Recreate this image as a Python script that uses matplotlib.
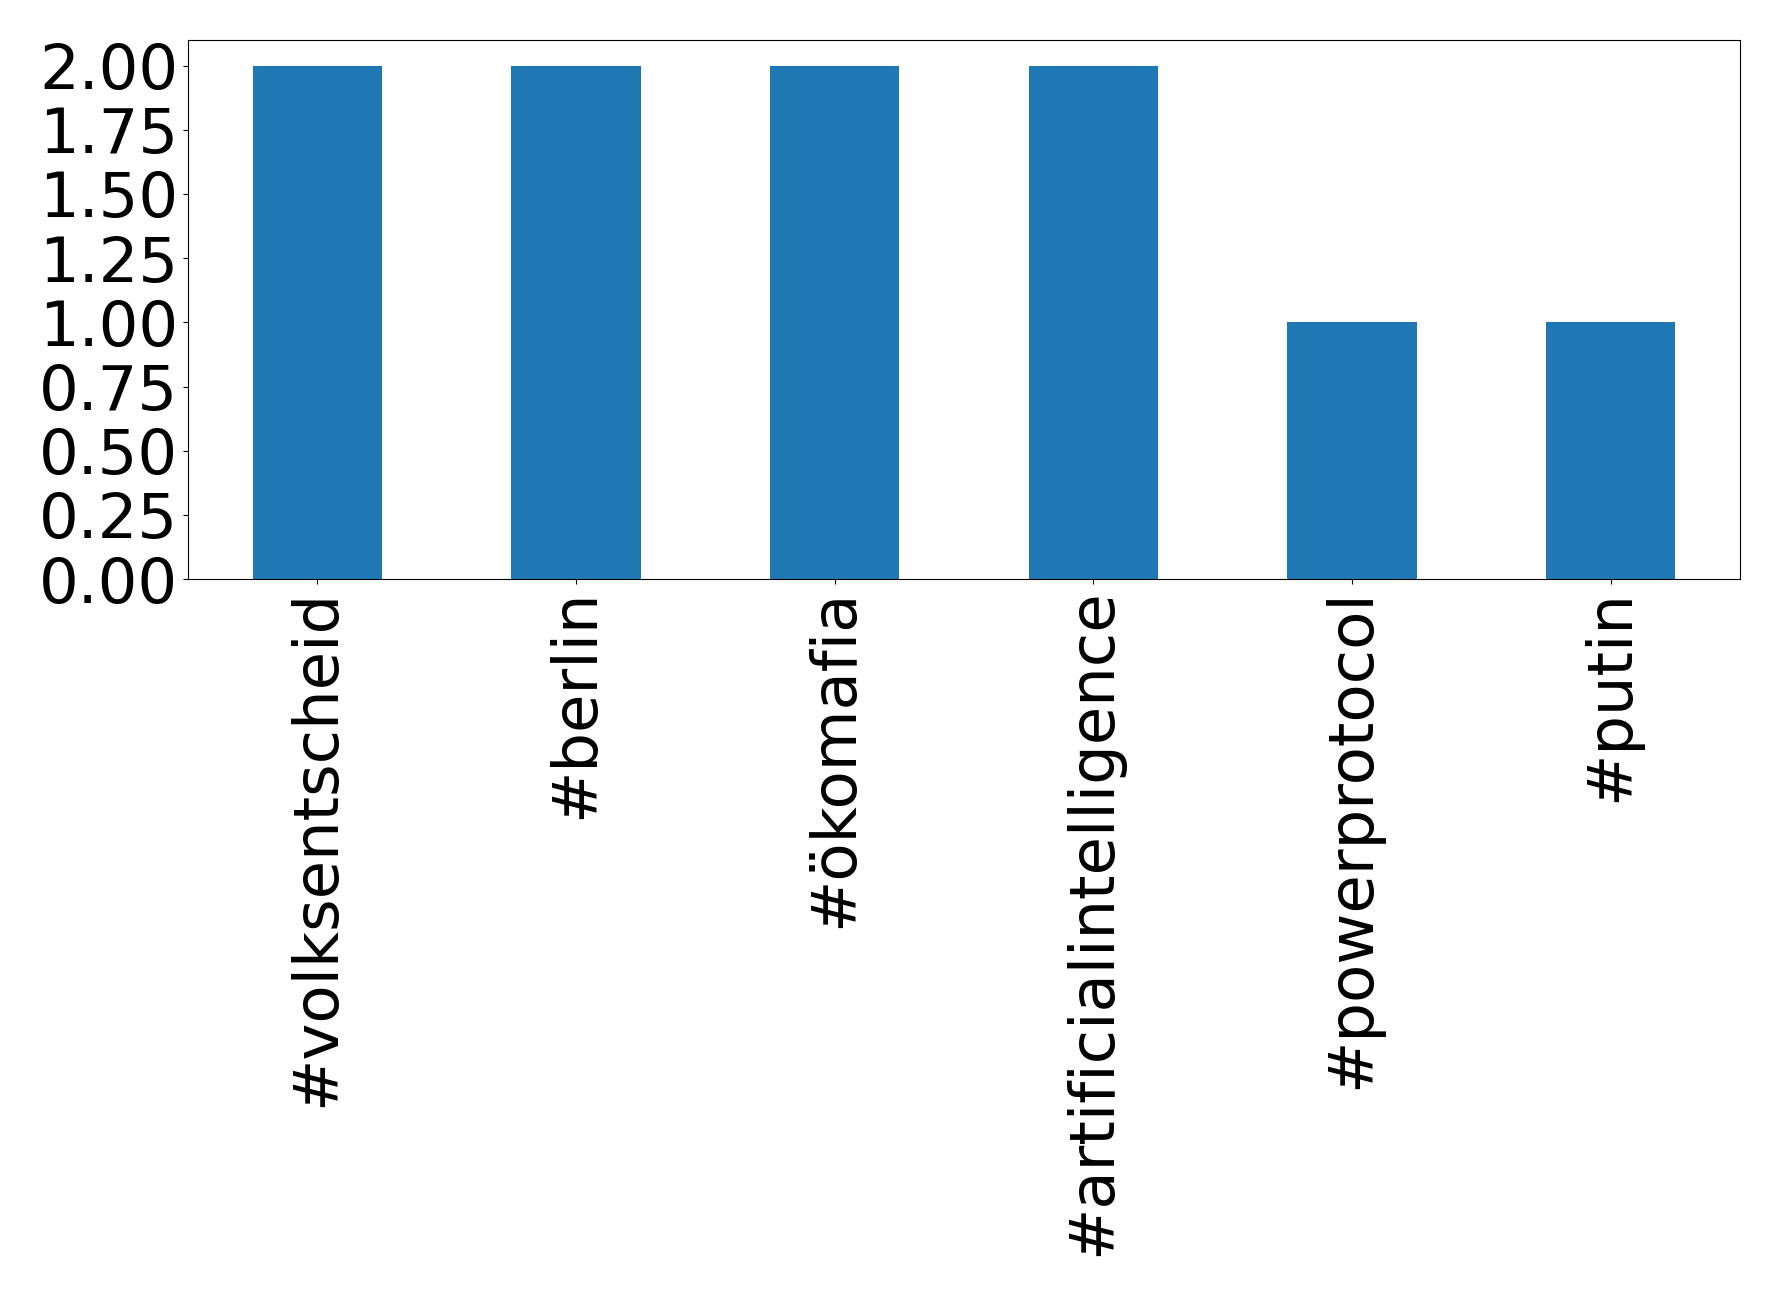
import pandas as pd
import matplotlib
matplotlib.use("Agg")
import matplotlib.pyplot as plt

# hashtag counts
hashtags = ["#volksentscheid", "#berlin", "#ökomafia", "#artificialintelligence",
            "#powerprotocol", "#putin"]
counts = [2, 2, 2, 2, 1, 1]

s = pd.Series(counts, index=hashtags)

fig = plt.figure(figsize=(17.78, 12.96), dpi=100)
ax = fig.add_axes([188 / 1778, 1 - 579 / 1296, (1740 - 188) / 1778, (579 - 40) / 1296])
s.plot(kind="bar", ax=ax, fontsize=45, color="#1f77b4")
ax.set_yticks([0, 0.25, 0.5, 0.75, 1.0, 1.25, 1.5, 1.75, 2.0])
ax.set_yticklabels(["%.2f" % v for v in ax.get_yticks()])
plt.savefig("out.png")
